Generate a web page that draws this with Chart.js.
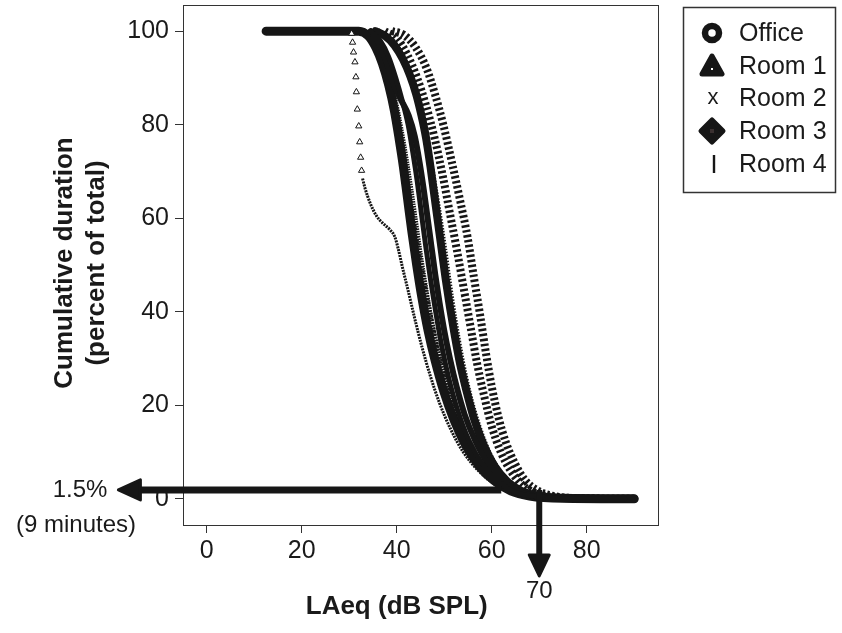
<!DOCTYPE html>
<html>
<head>
<meta charset="utf-8">
<script src="https://cdn.jsdelivr.net/npm/chart.js@4.4.1/dist/chart.umd.min.js"></script>
<style>
html,body{margin:0;padding:0;background:#fff;}
#wrap{width:842px;height:633px;}
</style>
</head>
<body>
<div id="wrap"><canvas id="levelsChart" width="842" height="633"></canvas></div>
<script>
// tick labels
const xTicks = [0, 20, 40, 60, 80];
const yTicks = [0, 20, 40, 60, 80, 100];
const legendNames = ['Office', 'Room 1', 'Room 2', 'Room 3', 'Room 4'];

// [LAeq dB, cumulative %]
const office1 = [[39,100],[41.5,99.2],[44,96.5],[46.3,92],[48.2,86],[49.8,80],[51.6,72],[53.3,64],[54.9,56],[56.3,47],[57.6,39],[58.8,31],[60,24],[61.4,17.5],[63,12],[64.9,7.5],[67,4],[69.6,1.8],[73,0.6],[80,0.1],[90,0]];
const office2 = [[37.5,100],[40,98.5],[42.2,95],[44.3,90],[46.2,84],[48,77],[49.7,69],[51.2,61],[52.7,53],[54.1,45],[55.5,37],[56.9,29],[58.4,22],[60,15.5],[61.9,10],[64,6],[66.6,2.8],[70,1],[76,0.2],[90,0]];
const room1drop = [[30.5,99.5],[30.7,97.6],[30.9,95.5],[31.2,93.4],[31.4,90.2],[31.5,87],[31.7,83.3],[32,79.7],[32.2,76.3],[32.4,73],[32.6,70.2]];
const room1a = [[32.8,68.5],[33.3,66.5],[34.5,63],[35.8,60.4],[37,59],[38.5,57.6],[39.6,56],[40.3,53.5],[41.2,49.5],[42.4,44.5],[43.8,38.5],[45.3,32.5],[47,26.5],[49,20.5],[51.3,15],[54,10],[57.2,6],[60.8,3],[64.5,1.3],[70,0.3],[80,0]];
const room1b = [[33,100],[35,98],[36.8,94.5],[38.3,90],[39.7,85],[40.9,79],[42,72.5],[43,66],[44,59],[45,52],[46.1,45],[47.3,38],[48.7,31],[50.4,24.5],[52.5,18],[55,12],[58,7],[61.5,3.5],[65,1.4],[70,0.4],[80,0]];
const room2a = [[36,100],[38.5,98.5],[40.7,95.5],[42.7,91],[44.5,85],[46,78],[47.4,70],[48.7,62],[49.9,54],[51,46],[52.2,38],[53.6,30],[55.2,22.5],[57.2,15.5],[59.5,9.5],[62.2,5],[65.5,2],[70,0.5],[78,0],[88,0]];
const room2b = [[33.5,100],[35.5,97],[37.2,92],[38.8,86],[40.2,79],[41.5,71],[42.8,63],[44.1,55],[45.5,47],[47,39],[48.7,31],[50.7,23.5],[53.1,16],[56,10],[59.3,5.5],[63,2.5],[67,0.8],[74,0.1],[85,0]];
const room3a = [[12.5,100],[25,100],[32,100],[34,99],[35.6,96.5],[37,93],[38.3,88.5],[39.5,83],[40.5,77],[41.4,71],[42.3,64],[43.2,57],[44.2,50],[45.3,43],[46.6,36],[48.1,29.5],[49.9,23],[52,17],[54.5,11.5],[57.4,7],[60.6,3.8],[64,1.7],[68,0.6],[75,0.1],[90,0]];
const room3b = [[35.5,100],[37.5,99],[39.5,97],[41.3,94],[42.8,90.5],[44.1,86.5],[45.2,82],[46.2,77],[47.1,71],[47.9,65],[48.7,59],[49.5,53],[50.3,47],[51.2,41],[52.2,35],[53.3,29],[54.7,23],[56.3,17],[58.3,11.5],[60.6,7],[63.2,3.8],[66.2,1.7],[70,0.6],[77,0.1],[90,0]];
const room3c = [[34.5,100],[36.2,97.5],[37.8,93.5],[39.2,89],[40.8,85.5],[42.5,82],[43.8,77.5],[44.8,72],[45.7,66],[46.5,60],[47.3,54],[48.1,48],[49,42],[50,36],[51.2,30],[52.6,24],[54.3,18],[56.5,12.5],[59.2,7.5],[62.3,3.8],[65.8,1.5],[70,0.4],[78,0]];
const room4a = [[34.5,100],[36.5,98],[38.3,94.5],[39.8,90],[41.2,85],[42.4,80],[43.4,74],[44.3,68],[45.2,61],[46.1,54],[47.1,47],[48.2,40],[49.4,33],[50.9,26],[52.8,19],[55.2,12.5],[58.2,7.2],[61.5,3.6],[65,1.4],[70,0.4],[78,0],[88,0]];

// annotation: 1.5% of time above 70 dB
const markLevel = 70;
const markPercent = 1.9;
const arrowFromLevel = 62;
const arrowTipLevel = -18.6;
const arrowTipPercent = -16.5;

const FONT = '"Liberation Sans", Arial, sans-serif';
const INK = '#161616';

function curve(pts, width, dash) {
    return {
        data: pts.map(p => ({x: p[0], y: p[1]})),
        showLine: true,
        pointRadius: 0,
        borderColor: INK,
        borderWidth: width,
        borderDash: dash || [],
        borderCapStyle: dash ? 'butt' : 'round',
        cubicInterpolationMode: 'monotone',
        fill: false,
        order: dash ? 1 : 0
    };
}

const frame = {
    id: 'frame',
    beforeDatasetsDraw(chart) {
        const a = chart.chartArea, ctx = chart.ctx;
        ctx.save();
        ctx.strokeStyle = '#333';
        ctx.lineWidth = 1;
        ctx.strokeRect(a.left + 0.5, a.top + 0.5, a.right - a.left, a.bottom - a.top);
        ctx.restore();
    }
};

const notes = {
    id: 'notes',
    afterDatasetsDraw(chart) {
        const ctx = chart.ctx, xs = chart.scales.x, ys = chart.scales.y;
        const ay = ys.getPixelForValue(markPercent);
        const x0 = xs.getPixelForValue(arrowFromLevel);
        const tipX = xs.getPixelForValue(arrowTipLevel);
        const vx = xs.getPixelForValue(markLevel);
        const tipY = ys.getPixelForValue(arrowTipPercent);
        ctx.save();
        ctx.fillStyle = INK;
        ctx.strokeStyle = INK;
        ctx.lineJoin = 'round';
        // horizontal arrow
        ctx.lineWidth = 7;
        ctx.beginPath();
        ctx.moveTo(x0, ay);
        ctx.lineTo(tipX + 18, ay);
        ctx.stroke();
        ctx.lineWidth = 3;
        ctx.beginPath();
        ctx.moveTo(tipX, ay);
        ctx.lineTo(tipX + 22, ay - 10);
        ctx.lineTo(tipX + 22, ay + 10);
        ctx.closePath();
        ctx.fill();
        ctx.stroke();
        // vertical arrow
        ctx.lineWidth = 6;
        ctx.beginPath();
        ctx.moveTo(vx, ay);
        ctx.lineTo(vx, tipY - 18);
        ctx.stroke();
        ctx.lineWidth = 3;
        ctx.beginPath();
        ctx.moveTo(vx, tipY);
        ctx.lineTo(vx - 10, tipY - 21);
        ctx.lineTo(vx + 10, tipY - 21);
        ctx.closePath();
        ctx.fill();
        ctx.stroke();

        ctx.fillStyle = '#1a1a1a';
        ctx.textAlign = 'center';
        ctx.textBaseline = 'middle';
        ctx.font = '24px ' + FONT;
        ctx.fillText('1.5%', 80, ay);
        ctx.fillText('(9 minutes)', 76, ay + 35);
        ctx.fillText('70', vx, tipY + 15);

        // axis titles
        ctx.font = 'bold 26px ' + FONT;
        ctx.fillText('LAeq (dB SPL)', xs.getPixelForValue(40), 607);
        ctx.translate(80, (chart.chartArea.top + chart.chartArea.bottom) / 2 - 2);
        ctx.rotate(-Math.PI / 2);
        ctx.fillText('Cumulative duration', 0, -15);
        ctx.fillText('(percent of total)', 0, 17);
        ctx.restore();
    }
};

const keyBox = {
    id: 'keyBox',
    afterDraw(chart) {
        const ctx = chart.ctx;
        const rows = [33, 66, 98, 131, 164];
        ctx.save();
        ctx.strokeStyle = '#333';
        ctx.lineWidth = 1.5;
        ctx.strokeRect(683.5, 7.5, 152, 185);
        ctx.fillStyle = INK;
        ctx.strokeStyle = INK;
        // Office: ring
        ctx.lineWidth = 6.5;
        ctx.beginPath();
        ctx.arc(712, rows[0], 7, 0, Math.PI * 2);
        ctx.stroke();
        // Room 1: triangle
        ctx.lineJoin = 'round';
        ctx.lineWidth = 5;
        ctx.beginPath();
        ctx.moveTo(712, rows[1] - 10);
        ctx.lineTo(722, rows[1] + 8);
        ctx.lineTo(702, rows[1] + 8);
        ctx.closePath();
        ctx.fill();
        ctx.stroke();
        ctx.fillStyle = '#fff';
        ctx.fillRect(711, rows[1] + 2, 2, 2);
        // Room 3: diamond
        ctx.fillStyle = INK;
        ctx.beginPath();
        ctx.moveTo(712, rows[3] - 11);
        ctx.lineTo(723, rows[3]);
        ctx.lineTo(712, rows[3] + 11);
        ctx.lineTo(701, rows[3]);
        ctx.closePath();
        ctx.fill();
        ctx.stroke();
        ctx.fillStyle = '#3a3030';
        ctx.fillRect(710, rows[3] - 2, 4, 4);
        // Room 4: bar
        ctx.lineWidth = 2.4;
        ctx.beginPath();
        ctx.moveTo(714, rows[4] - 9);
        ctx.lineTo(714, rows[4] + 9);
        ctx.stroke();
        // Room 2: x
        ctx.fillStyle = '#1a1a1a';
        ctx.textAlign = 'center';
        ctx.textBaseline = 'middle';
        ctx.font = '22px ' + FONT;
        ctx.fillText('x', 713, rows[2]);
        ctx.textAlign = 'left';
        ctx.font = '25px ' + FONT;
        legendNames.forEach((n, i) => ctx.fillText(n, 739, rows[i] + 1));
        ctx.restore();
    }
};

const ctx = document.getElementById('levelsChart').getContext('2d');
const levelsChart = new Chart(ctx, {
    type: 'scatter',
    data: {
        datasets: [
            Object.assign(curve(room1drop, 1), {showLine: false, pointStyle: 'triangle', pointRadius: 3.6, pointBorderColor: INK, pointBackgroundColor: '#fff', pointBorderWidth: 1}),
            curve(room1a, 3, [2, 1]),
            curve(room1b, 5, [1.5, 1]),
            curve(room2a, 6, [1.5, 1.5]),
            curve(room2b, 6, [1.5, 1.5]),
            curve(office1, 8, [2.5, 2.5]),
            curve(office2, 8, [2.5, 2.5]),
            curve(room4a, 5),
            curve(room3c, 6),
            curve(room3b, 8),
            curve(room3a, 9)
        ]
    },
    options: {
        responsive: false,
        animation: false,
        devicePixelRatio: 1,
        layout: {padding: {left: 0, right: 184, top: 5, bottom: 0}},
        plugins: {legend: {display: false}, tooltip: {enabled: false}},
        scales: {
            x: {
                type: 'linear', min: -5, max: 95,
                afterBuildTicks: s => { s.ticks = xTicks.map(v => ({value: v})); },
                afterFit: s => { s.height = 108; s.paddingLeft = 0; s.paddingRight = 0; },
                grid: {drawOnChartArea: false, drawTicks: true, tickLength: 8, color: '#333'},
                border: {display: true, color: '#333'},
                ticks: {font: {family: FONT, size: 25}, color: '#1a1a1a', padding: 3, maxRotation: 0}
            },
            y: {
                type: 'linear', min: -5.6, max: 105.6,
                afterBuildTicks: s => { s.ticks = yTicks.map(v => ({value: v})); },
                afterFit: s => { s.width = 183; s.paddingTop = 0; s.paddingBottom = 0; },
                grid: {drawOnChartArea: false, drawTicks: true, tickLength: 8, color: '#333'},
                border: {display: true, color: '#333'},
                ticks: {font: {family: FONT, size: 25}, color: '#1a1a1a', padding: 6}
            }
        }
    },
    plugins: [frame, notes, keyBox]
});
</script>
</body>
</html>
